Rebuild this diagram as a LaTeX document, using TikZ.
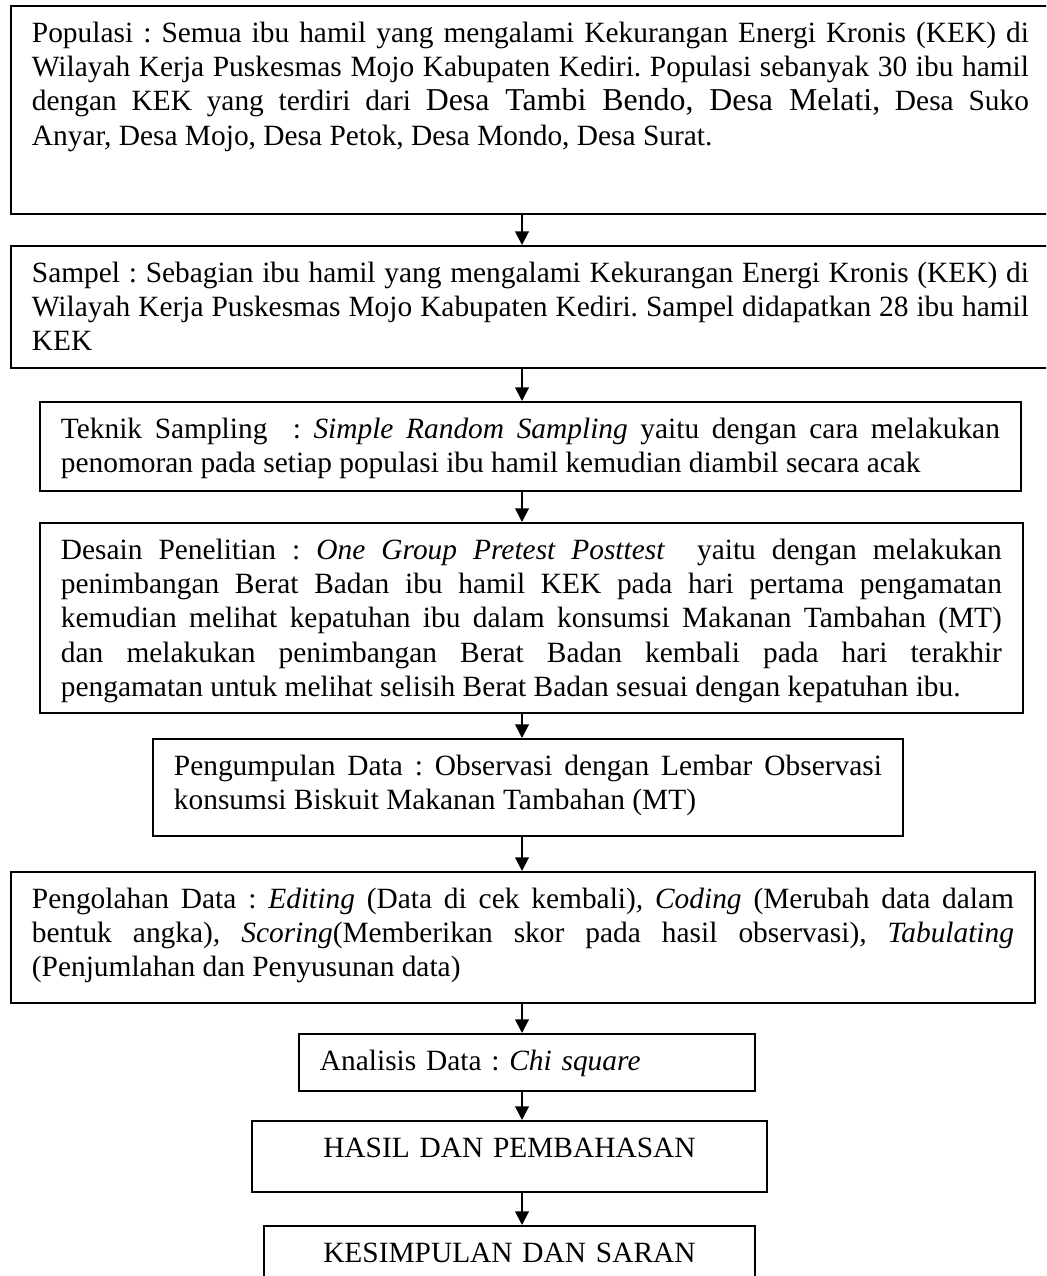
\documentclass[tikz,border=0pt]{standalone}
\usepackage{fontspec}
\setmainfont{Liberation Serif}
\usetikzlibrary{arrows.meta}
\frenchspacing

\tikzset{
  kotak/.style={draw, line width=0.7pt, anchor=north west, inner xsep=8.6pt, inner ysep=6.9pt,
    text height=8.2pt, align=justify, font=\fontsize{12}{13.9}\selectfont},
  panah/.style={-{Triangle[length=5.6pt,width=5.6pt]}, line width=0.8pt},
}

\begin{document}
\begin{tikzpicture}[x=0.4082pt, y=-0.4082pt]
        \useasboundingbox (0,0) rectangle (1046,1276);
        \clip (0,0) rectangle (1046,1276);
        \coordinate (kol) at (522,0);

        % Populasi dan sampel
        \node[kotak, text width=407pt, text depth=62.9pt] (populasi) at (10,5)
          {Populasi : Semua ibu hamil yang mengalami Kekurangan Energi Kronis (KEK) di\linebreak
           Wilayah Kerja Puskesmas Mojo Kabupaten Kediri. Populasi sebanyak 30 ibu hamil\linebreak
           dengan KEK yang terdiri dari {\fontsize{13}{13.9}\selectfont Desa Tambi Bendo, Desa Melati,} Desa Suko\linebreak
           Anyar, Desa Mojo, Desa Petok, Desa Mondo, Desa Surat.};
        \node[kotak, text width=407pt, text depth=27.8pt] (sampel) at (10,245)
          {Sampel : Sebagian ibu hamil yang mengalami Kekurangan Energi Kronis (KEK) di\linebreak
           Wilayah Kerja Puskesmas Mojo Kabupaten Kediri. Sampel didapatkan 28 ibu hamil\linebreak
           KEK};

        % Teknik dan desain
        \node[kotak, text width=383.3pt, text depth=14.3pt] (teknik) at (39,401)
          {Teknik Sampling\ \ : \textit{Simple Random Sampling} yaitu dengan cara melakukan\linebreak
           penomoran pada setiap populasi ibu hamil kemudian diambil secara acak};
        \node[kotak, text width=384.1pt, text depth=55.5pt] (desain) at (39,522)
          {Desain Penelitian : \textit{One Group Pretest Posttest}\ \ yaitu dengan melakukan\linebreak
           penimbangan Berat Badan ibu hamil KEK pada hari pertama pengamatan\linebreak
           kemudian melihat kepatuhan ibu dalam konsumsi Makanan Tambahan (MT)\linebreak
           dan melakukan penimbangan Berat Badan kembali pada hari terakhir\linebreak
           pengamatan untuk melihat selisih Berat Badan sesuai dengan kepatuhan ibu.};

        % Data
        \node[kotak, text width=289pt, text depth=17.6pt] (kumpul) at (152,738)
          {Pengumpulan Data : Observasi dengan Lembar Observasi\linebreak
           konsumsi Biskuit Makanan Tambahan (MT)};
        \node[kotak, text width=400.9pt, text depth=31.4pt] (olah) at (10,871)
          {Pengolahan Data : \textit{Editing} (Data di cek kembali)\textit{,} \textit{Coding} (Merubah data dalam\linebreak
           bentuk angka)\textit{,} \textit{Scoring}(Memberikan skor pada hasil observasi)\textit{,} \textit{Tabulating}\linebreak
           (Penjumlahan dan Penyusunan data)};
        \node[kotak, align=left, text width=169pt, text depth=1.2pt] (analisis) at (298,1033)
          {Analisis Data : \textit{Chi square}};

        % Hasil
        \node[kotak, align=center, text width=193.1pt, text depth=6.9pt] (hasil) at (251,1120)
          {HASIL DAN PEMBAHASAN};
        \node[kotak, align=center, text width=183.3pt, text depth=6.9pt] (simpulan) at (263,1225)
          {KESIMPULAN DAN SARAN};

        % Panah
        \draw[panah] (populasi.south -| kol) -- (sampel.north -| kol);
        \draw[panah] (sampel.south -| kol) -- (teknik.north -| kol);
        \draw[panah] (teknik.south -| kol) -- (desain.north -| kol);
        \draw[panah] (desain.south -| kol) -- (kumpul.north -| kol);
        \draw[panah] (kumpul.south -| kol) -- (olah.north -| kol);
        \draw[panah] (olah.south -| kol) -- (analisis.north -| kol);
        \draw[panah] (analisis.south -| kol) -- (hasil.north -| kol);
        \draw[panah] (hasil.south -| kol) -- (simpulan.north -| kol);
    \end{tikzpicture}
\end{document}
